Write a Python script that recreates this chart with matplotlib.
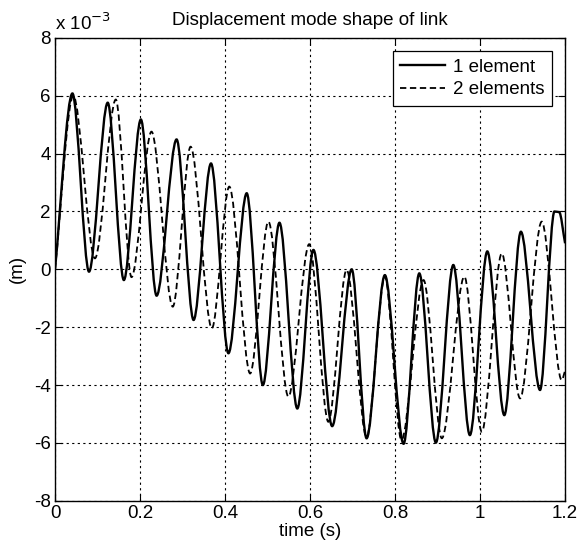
import matplotlib
matplotlib.use("Agg")
import matplotlib.pyplot as plt
from matplotlib.path import Path
from matplotlib.patches import PathPatch
from matplotlib.lines import Line2D

# Data (extrema of each trace, values in units of 1e-3 m)
t_one = [0.0, 0.041, 0.080, 0.124, 0.162, 0.202, 0.239, 0.286, 0.326, 0.367,
         0.408, 0.451, 0.489, 0.528, 0.570, 0.608, 0.652, 0.698, 0.733, 0.776,
         0.820, 0.857, 0.896, 0.937, 0.976, 1.017, 1.057, 1.096, 1.141, 1.175,
         1.186, 1.200]
y_one = [0.0, 6.08, -0.08, 5.76, -0.37, 5.18, -0.91, 4.49, -1.75, 3.66,
         -2.90, 2.63, -4.00, 1.61, -4.81, 0.67, -5.42, 0.0, -5.84, -0.20,
         -6.03, -0.14, -5.99, 0.15, -5.73, 0.62, -5.04, 1.30, -4.17, 2.00,
         1.98, 0.90]

t_two = [0.0, 0.043, 0.094, 0.143, 0.180, 0.227, 0.277, 0.319, 0.369, 0.410,
         0.459, 0.502, 0.549, 0.598, 0.643, 0.686, 0.733, 0.776, 0.815, 0.867,
         0.910, 0.963, 1.004, 1.051, 1.094, 1.145, 1.192, 1.200]
y_two = [0.0, 6.00, 0.38, 5.87, -0.27, 4.76, -1.29, 4.24, -2.04, 2.86,
         -3.60, 1.65, -4.40, 0.87, -5.27, -0.02, -5.80, -0.25, -5.90, -0.37,
         -5.84, -0.25, -5.61, 0.55, -4.46, 1.65, -3.83, -3.50]

labels = ["1 element", "2 elements"]
x_ticks = [0, 0.2, 0.4, 0.6, 0.8, 1, 1.2]
x_ticklabels = ["0", "0.2", "0.4", "0.6", "0.8", "1", "1.2"]
y_ticks = [-8, -6, -4, -2, 0, 2, 4, 6, 8]

plt.rcParams['font.family'] = ['Liberation Sans', 'DejaVu Sans']
plt.rcParams['axes.unicode_minus'] = False
FS = 13.5


def smooth_path(ts, ys, k=0.32):
    """Bezier path through the read extrema, flat at each turning point."""
    verts = [(ts[0], ys[0])]
    codes = [Path.MOVETO]
    n = len(ts)
    for i in range(n - 1):
        t0, y0, t1, y1 = ts[i], ys[i], ts[i + 1], ys[i + 1]
        d = (t1 - t0) * k
        c1y = y0 if 0 < i else y0 + (y1 - y0) * k
        c2y = y1 if i + 1 < n - 1 else y1 - (y1 - y0) * k
        verts += [(t0 + d, c1y), (t1 - d, c2y), (t1, y1)]
        codes += [Path.CURVE4] * 3
    return Path(verts, codes)


fig = plt.figure(figsize=(5.79, 5.55), dpi=100)
ax = fig.add_axes([0.095, 0.0977, 0.881, 0.834])

style_one = dict(color='black', lw=1.7, ls='-')
style_two = dict(color='black', lw=1.3, ls=(0, (3.5, 2)))

ax.add_patch(PathPatch(smooth_path(t_one, y_one), fill=False, edgecolor='black',
                       lw=style_one['lw'], ls=style_one['ls'], zorder=3))
ax.add_patch(PathPatch(smooth_path(t_two, y_two), fill=False, edgecolor='black',
                       lw=style_two['lw'], ls=style_two['ls'], zorder=3))

ax.set_xlim(0, 1.2)
ax.set_ylim(-8, 8)
ax.set_xticks(x_ticks)
ax.set_xticklabels(x_ticklabels)
ax.set_yticks(y_ticks)
ax.grid(True, color='black', ls=(0, (2, 3)), lw=0.8)
ax.tick_params(direction='in', top=True, right=True, labelsize=FS, length=5,
               width=0.8, pad=3)
for s in ax.spines.values():
    s.set_linewidth(1.0)

ax.set_xlabel("time (s)", fontsize=FS, labelpad=1)
ax.set_ylabel("(m)", fontsize=FS, labelpad=6)
ax.set_title("Displacement mode shape of link", fontsize=FS, pad=9)
ax.text(0.0, 1.008, r"x 10$^{-3}$", transform=ax.transAxes, fontsize=FS,
        ha='left', va='bottom')

handles = [Line2D([], [], **style_one), Line2D([], [], **style_two)]
leg = ax.legend(handles, labels, loc='upper right', fontsize=FS, frameon=True,
                fancybox=False, framealpha=1, edgecolor='black',
                handlelength=2.4, borderaxespad=0.7, borderpad=0.4,
                labelspacing=0.3, handletextpad=0.4)
leg.get_frame().set_linewidth(0.9)

fig.savefig("out.png", dpi=100)
